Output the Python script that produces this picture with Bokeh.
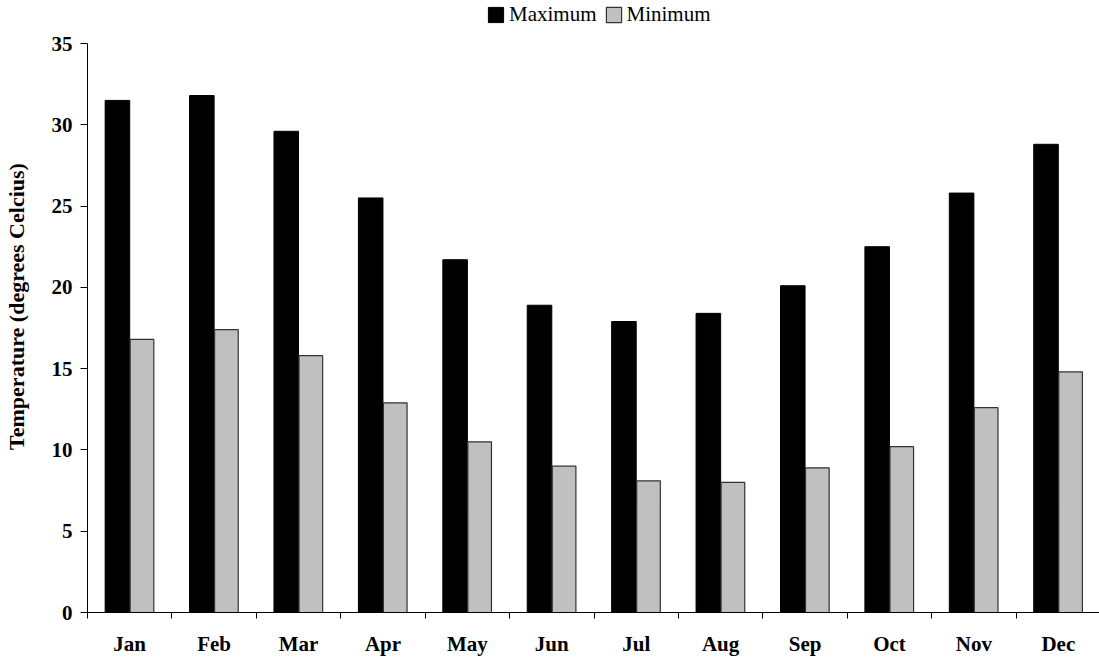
import numpy as np
from bokeh.plotting import figure
from bokeh.models import (ColumnDataSource, Range1d, FixedTicker, Legend, LegendItem)
from bokeh.transform import dodge
from bokeh.embed import file_html
from bokeh.resources import INLINE

months = ["Jan", "Feb", "Mar", "Apr", "May", "Jun", "Jul", "Aug", "Sep", "Oct", "Nov", "Dec"]
max_temp = [31.5, 31.8, 29.6, 25.5, 21.7, 18.9, 17.9, 18.4, 20.1, 22.5, 25.8, 28.8]
min_temp = [16.8, 17.4, 15.8, 12.9, 10.5, 9.0, 8.1, 8.0, 8.9, 10.2, 12.6, 14.8]
y_ticks = [0, 5, 10, 15, 20, 25, 30, 35]

centers = [i + 0.5 for i in range(len(months))]
bounds = list(range(len(months) + 1))

src = ColumnDataSource(dict(x=centers, month=months, tmax=max_temp, tmin=min_temp))

FONT = "Liberation Serif"

# frame spans the full height above the x axis; the y axis itself is bounded to 0..35
p = figure(width=1099, height=658, output_backend="svg", toolbar_location=None,
           x_range=Range1d(0, 11.988), y_range=Range1d(0, 37.645),
           min_border_left=86, min_border_right=0, min_border_top=0, min_border_bottom=46)
p.outline_line_color = None
p.xgrid.grid_line_color = None
p.ygrid.grid_line_color = None
p.background_fill_color = "white"
p.border_fill_color = "white"

r_max = p.vbar(x=dodge("x", -0.1455, range=p.x_range), top="tmax", width=0.291, source=src,
               fill_color="black", line_color="black", line_width=1)
r_min = p.vbar(x=dodge("x", 0.1455, range=p.x_range), top="tmin", width=0.28, source=src,
               fill_color="#C0C0C0", line_color="#333333", line_width=1.2)

# x axis
xa = p.xaxis[0]
xa.ticker = FixedTicker(ticks=centers, minor_ticks=bounds)
xa.major_label_overrides = {c: m for c, m in zip(centers, months)}
xa.major_tick_line_color = None
xa.major_tick_in = 0
xa.major_tick_out = 0
xa.minor_tick_in = 0
xa.minor_tick_out = 6
xa.minor_tick_line_color = "black"
xa.axis_line_color = "black"
xa.major_label_text_font = FONT
xa.major_label_text_font_style = "bold"
xa.major_label_text_font_size = "21px"
xa.major_label_text_color = "black"
xa.major_label_standoff = 13

# y axis
ya = p.yaxis[0]
ya.ticker = FixedTicker(ticks=y_ticks)
ya.bounds = (0, 35)
ya.minor_tick_line_color = None
ya.major_tick_in = 0
ya.major_tick_out = 7
ya.major_tick_line_color = "black"
ya.axis_line_color = "black"
ya.major_label_text_font = FONT
ya.major_label_text_font_style = "bold"
ya.major_label_text_font_size = "21px"
ya.major_label_text_color = "black"
ya.major_label_standoff = 8
ya.axis_label = "Temperature (degrees Celcius)"
ya.axis_label_text_font = FONT
ya.axis_label_text_font_style = "bold"
ya.axis_label_text_font_size = "22px"
ya.axis_label_text_color = "black"
ya.axis_label_standoff = 20

legend = Legend(items=[LegendItem(label="Maximum", renderers=[r_max]),
                       LegendItem(label="Minimum", renderers=[r_min])],
                orientation="horizontal", location=(399, 585),
                padding=0, margin=0, spacing=7, label_standoff=4,
                glyph_width=19, glyph_height=19, label_height=15,
                label_text_font="'Liberation Serif'", label_text_font_size="21px",
                label_text_color="black", border_line_color=None,
                background_fill_alpha=0)
p.add_layout(legend, "center")

open("out.html", "w").write(file_html(p, INLINE))
